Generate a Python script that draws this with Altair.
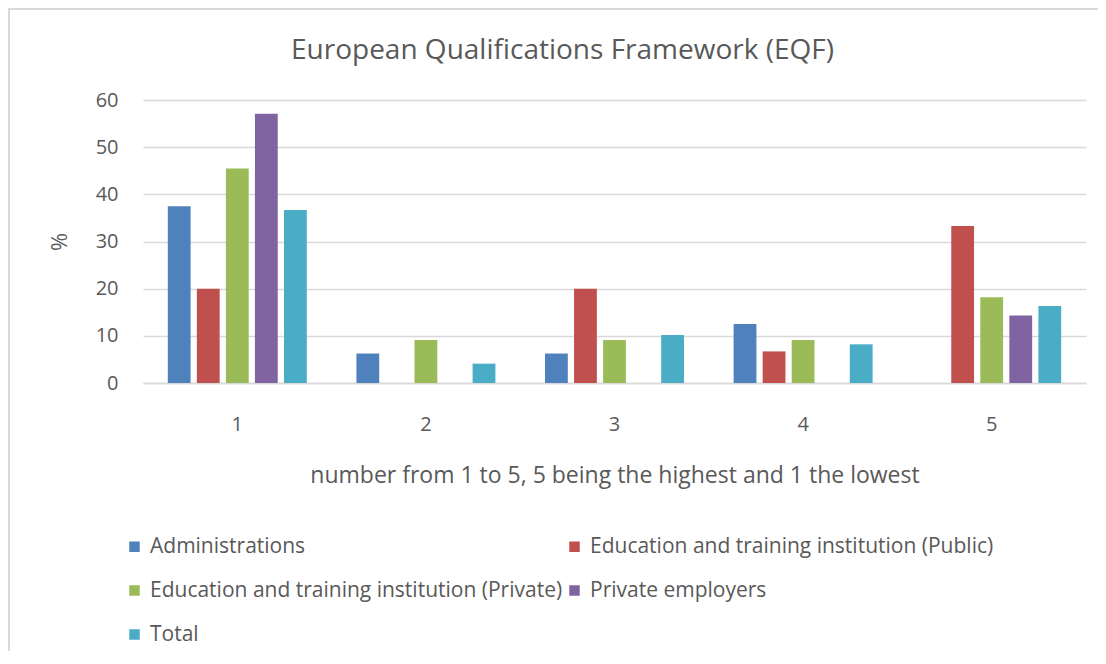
import altair as alt
import pandas as pd

categories = ["1", "2", "3", "4", "5"]
series = [
    "Administrations",
    "Education and training institution (Public)",
    "Education and training institution (Private)",
    "Private employers",
    "Total",
]
administrations = [37.5, 6.25, 6.25, 12.5, None]
edu_public = [20.0, None, 20.0, 6.7, 33.3]
edu_private = [45.5, 9.1, 9.1, 9.1, 18.2]
private_employers = [57.1, None, None, None, 14.3]
total = [36.7, 4.1, 10.2, 8.2, 16.3]
colors = ["#4F81BD", "#C0504D", "#9BBB59", "#8064A2", "#4BACC6"]

rows = []
for s, vals in zip(series, [administrations, edu_public, edu_private, private_employers, total]):
    for c, v in zip(categories, vals):
        if v is not None:
            rows.append({"cat": c, "series": s, "value": v})
df = pd.DataFrame(rows)

# legend fills column-major in Vega: reorder so that it reads row-wise like the original
legend_order = [series[0], series[2], series[4], series[1], series[3]]
legend_colors = [colors[series.index(s)] for s in legend_order]

FONT = "Open Sans"
GREY = "#595959"

bars = alt.Chart(df).mark_bar().encode(
    x=alt.X("cat:N", sort=categories,
            scale=alt.Scale(paddingInner=0.263, paddingOuter=0.1315),
            axis=alt.Axis(title="number from 1 to 5, 5 being the highest and 1 the lowest",
                          labelAngle=0, labelFontSize=20, labelColor=GREY, labelFont=FONT,
                          labelPadding=31, ticks=False, domainColor="#D9D9D9", domainWidth=1.5,
                          titleFontSize=23, titleFont=FONT, titleColor=GREY, titleFontWeight="normal",
                          titlePadding=30)),
    xOffset=alt.XOffset("series:N", sort=series,
                        scale=alt.Scale(domain=series, paddingInner=0.215, paddingOuter=0)),
    y=alt.Y("value:Q", scale=alt.Scale(domain=[0, 60]),
            axis=alt.Axis(title="%", values=[0, 10, 20, 30, 40, 50, 60], labelFontSize=20,
                          labelColor=GREY, labelFont=FONT, labelPadding=25, ticks=False,
                          domain=False, gridColor="#D9D9D9", gridWidth=1.5,
                          titleFontSize=22, titleFont=FONT, titleColor=GREY,
                          titleFontWeight="normal", titlePadding=24)),
    color=alt.Color("series:N",
                    scale=alt.Scale(domain=legend_order, range=legend_colors),
                    legend=alt.Legend(title=None, orient="none", legendX=-19, legendY=436,
                                      columns=2, symbolType="square", symbolSize=110,
                                      symbolStrokeWidth=0, labelFontSize=21, labelFont=FONT,
                                      labelColor=GREY, labelOffset=5, rowPadding=22,
                                      columnPadding=1, labelLimit=600)),
)

frame = alt.Data(values=[{}])
border_left = alt.Chart(frame).mark_rule(color="#D9D9D9", strokeWidth=2).encode(
    x=alt.value(-134), y=alt.value(-92), y2=alt.value(900))
border_top = alt.Chart(frame).mark_rule(color="#D9D9D9", strokeWidth=2).encode(
    x=alt.value(-135), x2=alt.value(2000), y=alt.value(-91))

chart = alt.layer(border_left, border_top, bars).properties(
    width=943, height=283,
    title=alt.TitleParams("European Qualifications Framework (EQF)", fontSize=28, font=FONT,
                          color=GREY, fontWeight="normal", anchor="middle", dx=-52,
                          offset=0, dy=58),
    autosize=alt.AutoSizeParams(type="none"),
    padding={"left": 135, "top": 92, "right": 12, "bottom": 268},
).configure_view(stroke=None)

chart.save("out.html", embed_options={"renderer": "svg", "actions": False})
